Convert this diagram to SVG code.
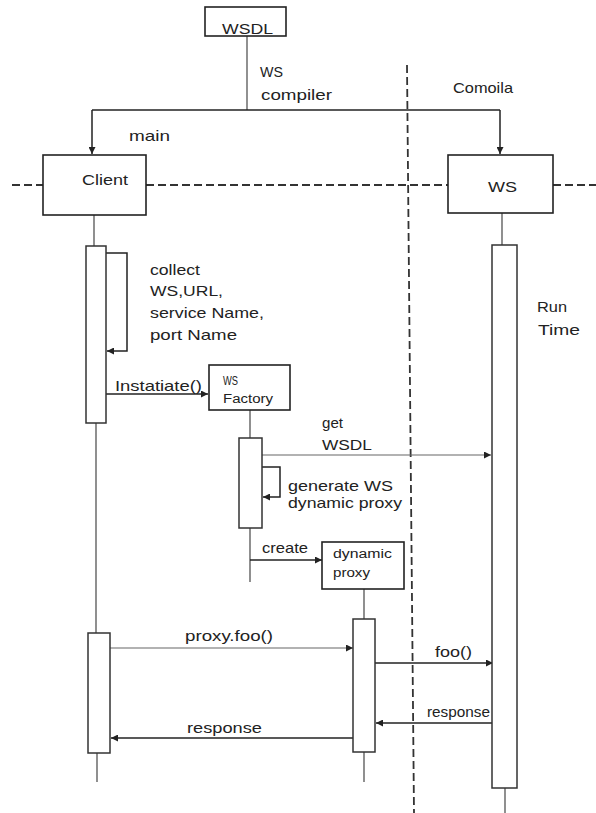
<svg xmlns="http://www.w3.org/2000/svg" width="596" height="813" viewBox="0 0 596 813">
<style>
text{font-family:"Liberation Sans",Arial,sans-serif;font-size:15px;fill:#222}
.sm{font-size:12px}
.box{fill:#fff;stroke:#222;stroke-width:1.6}
.bar{fill:#fff;stroke:#333;stroke-width:1.5}
.life{stroke:#555;stroke-width:1.3;fill:none}
.ln{stroke:#222;stroke-width:1.5;fill:none}
.thin{stroke:#666;stroke-width:1.1;fill:none}
.dash{stroke:#333;stroke-width:1.8;stroke-dasharray:8 4;fill:none}
</style>
<defs>
<marker id="ah" viewBox="0 0 10 10" refX="10" refY="5" markerWidth="7" markerHeight="7" markerUnits="userSpaceOnUse" orient="auto">
<path d="M0,0 L10,5 L0,10 z" fill="#222"/>
</marker>
</defs>
<rect width="596" height="813" fill="#fff"/>
<g id="separators">
<path class="dash" d="M407,65 L414,813"/>
<path class="dash" d="M12,185 H43 M146,185 H448 M553,185 H596"/>
</g>
<g id="connectors">
<path class="life" d="M247,36 V110"/>
<path class="ln" d="M92,110 H500"/>
<path class="ln" d="M92,110 V154" marker-end="url(#ah)"/>
<path class="ln" d="M500,110 V154" marker-end="url(#ah)"/>
<path class="life" d="M94,215 V246 M96,423 V633 M97,753 V782"/>
<path class="life" d="M250,410 V438 M250,528 V582"/>
<path class="life" d="M364,589 V619 M364,752 V782"/>
<path class="life" d="M502,213 V245 M505,788 V813"/>
<path class="ln" d="M106,253 H127 V351 H107" marker-end="url(#ah)"/>
<path class="ln" d="M106,394 H208" marker-end="url(#ah)"/>
<path class="thin" d="M262,455 H491" marker-end="url(#ah)"/>
<path class="ln" d="M262,467 H280 V497 H263" marker-end="url(#ah)"/>
<path class="ln" d="M250,560 H322" marker-end="url(#ah)"/>
<path class="thin" d="M110,648 H353" marker-end="url(#ah)"/>
<path class="ln" d="M375,663 H493" marker-end="url(#ah)"/>
<path class="ln" d="M493,723 H376" marker-end="url(#ah)"/>
<path class="ln" d="M353,738 H111" marker-end="url(#ah)"/>
</g>
<g id="wsdl">
<rect class="box" x="205" y="7" width="81" height="29"/>
<text x="222" y="34" textLength="51" lengthAdjust="spacingAndGlyphs">WSDL</text>
</g>
<g id="labels-top">
<text x="260" y="77" textLength="23" lengthAdjust="spacingAndGlyphs">WS</text>
<text x="261" y="100" textLength="71" lengthAdjust="spacingAndGlyphs">compiler</text>
<text x="453" y="93" textLength="60" lengthAdjust="spacingAndGlyphs">Comoila</text>
<text x="129" y="141" textLength="41" lengthAdjust="spacingAndGlyphs">main</text>
<text x="537" y="312" textLength="30" lengthAdjust="spacingAndGlyphs">Run</text>
<text x="538" y="335" textLength="42" lengthAdjust="spacingAndGlyphs">Time</text>
</g>
<g id="client">
<rect class="box" x="43" y="155" width="103" height="60"/>
<text x="82" y="185" textLength="46" lengthAdjust="spacingAndGlyphs">Client</text>
<rect class="bar" x="86" y="246" width="20" height="177"/>
<rect class="bar" x="88" y="633" width="22" height="120"/>
</g>
<g id="ws">
<rect class="box" x="448" y="155" width="105" height="58"/>
<text x="488" y="192" textLength="29" lengthAdjust="spacingAndGlyphs">WS</text>
<rect class="bar" x="492" y="245" width="25" height="543"/>
</g>
<g id="ws-factory">
<rect class="box" x="209" y="365" width="81" height="45"/>
<text class="sm" x="223" y="385" textLength="15" lengthAdjust="spacingAndGlyphs">WS</text>
<text class="sm" x="223" y="403" textLength="50" lengthAdjust="spacingAndGlyphs">Factory</text>
<rect class="bar" x="239" y="438" width="23" height="90"/>
</g>
<g id="dynamic-proxy">
<rect class="box" x="322" y="542" width="82" height="47"/>
<text class="sm" x="333" y="558" textLength="59" lengthAdjust="spacingAndGlyphs">dynamic</text>
<text class="sm" x="333" y="577" textLength="37" lengthAdjust="spacingAndGlyphs">proxy</text>
<rect class="bar" x="353" y="619" width="22" height="133"/>
</g>
<g id="message-labels">
<text x="150" y="275" textLength="50" lengthAdjust="spacingAndGlyphs">collect</text>
<text x="150" y="296" textLength="73" lengthAdjust="spacingAndGlyphs">WS,URL,</text>
<text x="150" y="318" textLength="114" lengthAdjust="spacingAndGlyphs">service Name,</text>
<text x="150" y="340" textLength="87" lengthAdjust="spacingAndGlyphs">port Name</text>
<text x="115" y="391" textLength="87" lengthAdjust="spacingAndGlyphs">Instatiate()</text>
<text x="322" y="428" textLength="21" lengthAdjust="spacingAndGlyphs">get</text>
<text x="322" y="450" textLength="50" lengthAdjust="spacingAndGlyphs">WSDL</text>
<text x="288" y="491" textLength="105" lengthAdjust="spacingAndGlyphs">generate WS</text>
<text x="288" y="508" textLength="114" lengthAdjust="spacingAndGlyphs">dynamic proxy</text>
<text x="262" y="553" textLength="46" lengthAdjust="spacingAndGlyphs">create</text>
<text x="185" y="641" textLength="88" lengthAdjust="spacingAndGlyphs">proxy.foo()</text>
<text x="435" y="657" textLength="37" lengthAdjust="spacingAndGlyphs">foo()</text>
<text x="427" y="717" textLength="63" lengthAdjust="spacingAndGlyphs">response</text>
<text x="187" y="733" textLength="75" lengthAdjust="spacingAndGlyphs">response</text>
</g>
</svg>
